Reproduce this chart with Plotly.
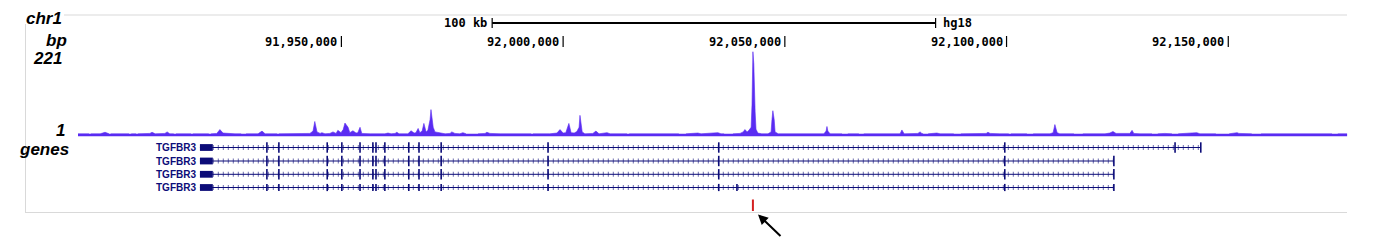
import plotly.graph_objects as go

# ---------------- data ----------------
chrom = "chr1"
assembly = "hg18"
view_kb = [91890.6, 92177.0]                 # visible window, kb
tick_kb = [91950, 92000, 92050, 92100, 92150]
tick_labels = ["91,950,000", "92,000,000", "92,050,000", "92,100,000", "92,150,000"]
scale_bar_kb = [91984.0, 92084.0]            # 100 kb bar
scale_bar_label = "100 kb"
sig_range_labels = ["221", "1"]
sig_max = 221

# signal track (None = gap in data)
sig_kb = [
    91890.6, 91893.1, None,
    91893.5, 91895.6, 91896.7, 91897.6, None,
    91898.0, 91902.1, None,
    91902.6, 91903.7, None,
    91904.1, 91906.8, 91907.3, 91908.0, 91910.2, 91910.7, 91911.3, 91912.2, None,
    91912.7, 91916.1, None,
    91916.5, 91920.1, None,
    91920.6, 91921.9, 91922.6, 91923.3, 91926.0, 91927.4, None,
    91928.5, 91931.2, 91932.1, 91932.8, 91935.5, None,
    91935.9, 91942.9, 91943.6, 91944.0, 91944.5, 91945.2, 91945.6, 91946.3, 91947.4, 91948.1,
    91948.8, 91949.2, 91949.9, 91950.4, 91950.8, 91951.5, 91951.9, 91952.6, 91953.3, 91953.7,
    91954.2, 91954.6, 91956.5, 91959.8, 91960.5, 91961.2, 91962.1, 91962.5, 91963.0, 91965.0,
    91965.7, 91966.4, 91966.8, 91967.3, 91967.7, 91968.2, 91968.6, 91969.1, 91969.5, 91970.0,
    91970.2, 91970.7, 91971.1, 91972.2, 91973.4, 91974.5, 91974.9, 91975.6, 91976.7, 91977.4,
    91978.1, None,
    91980.8, 91982.4, 91982.8, 91983.5, 91985.8, 91992.8, None,
    91993.2, 91997.0, 91998.6, 91999.3, 92000.0, 92000.6, 92001.3, 92001.8, 92002.5, 92003.1,
    92003.6, 92003.8, 92004.3, 92004.9, 92006.7, 92007.4, 92008.1, 92009.4, 92009.9, 92010.6,
    92014.4, None,
    92014.9, 92021.8, 92026.1, None,
    92027.7, 92029.7, 92030.4, 92031.1, 92032.7, 92033.3, 92034.9, 92035.6, 92036.3, None,
    92038.3, 92039.9, 92040.6, 92041.0, 92041.5, 92041.9, 92042.4, 92042.6, 92042.8, 92043.0,
    92043.3, 92043.5, 92043.9, 92044.8, 92046.2, 92046.9, 92047.1, 92047.3, 92047.6, 92047.8,
    92048.5, 92053.4, 92058.8, 92059.3, 92059.5, 92059.7, 92060.2, 92062.9, None,
    92064.2, 92065.1, 92065.8, 92066.7, None,
    92067.8, 92076.0, 92076.4, 92076.9, 92080.0, 92080.5, 92080.9, 92081.2, None,
    92082.3, 92083.9, 92084.3, 92085.0, 92088.1, None,
    92089.7, 92092.9, 92095.4, 92095.8, 92096.3, 92098.5, 92100.5, None,
    92101.0, 92104.6, None,
    92106.0, 92109.8, 92110.5, 92110.9, 92111.4, 92112.0, 92115.2, None,
    92117.2, 92122.2, 92123.3, 92124.0, 92124.7, 92126.7, 92127.8, 92128.3, 92128.7, 92130.1,
    92132.8, None,
    92134.1, 92135.7, 92137.3, None,
    92138.7, 92141.4, 92142.3, 92142.9, 92143.6, 92147.2, None,
    92150.2, 92151.5, 92152.0, 92152.4, 92155.3, None,
    92157.4, 92166.2, 92168.4, 92170.7, 92173.4, None,
    92174.7, 92176.8,
]
sig_val = [
    7, 7, None,
    7, 7, 11, 7, None,
    7, 7, None,
    7, 7, None,
    7, 8, 11, 7, 8, 12, 7, 7, None,
    7, 7, None,
    7, 7, None,
    7, 8, 18, 9, 7, 7, None,
    7, 7, 14, 7, 7, None,
    7, 8, 14, 39, 12, 8, 10, 7, 8, 12,
    8, 16, 10, 18, 35, 24, 10, 15, 9, 10,
    24, 8, 7, 7, 9, 7, 8, 11, 7, 7,
    15, 9, 10, 21, 10, 14, 34, 12, 16, 44,
    70, 24, 12, 9, 7, 8, 12, 8, 7, 10,
    7, None,
    7, 8, 11, 8, 7, 7, None,
    7, 7, 9, 18, 9, 10, 34, 10, 9, 13,
    24, 55, 12, 7, 8, 14, 7, 8, 10, 7,
    7, None,
    7, 7, 7, None,
    7, 8, 9, 7, 8, 10, 10, 7, 7, None,
    7, 8, 12, 18, 12, 16, 24, 84, 221, 189,
    64, 19, 9, 7, 7, 12, 44, 67, 44, 12,
    7, 7, 7, 14, 26, 14, 7, 7, None,
    7, 8, 7, 7, None,
    7, 7, 17, 7, 8, 12, 8, 7, None,
    7, 8, 9, 7, 7, None,
    7, 7, 8, 11, 8, 7, 7, None,
    7, 7, None,
    7, 7, 10, 31, 10, 7, 7, None,
    7, 7, 9, 13, 8, 7, 8, 16, 8, 7,
    7, None,
    7, 8, 7, None,
    7, 8, 10, 10, 7, 7, None,
    7, 8, 10, 8, 7, None,
    7, 7, 8, 7, 7, None,
    7, 7,
]

# genes (TGFBR3 transcripts)
gene_name = "TGFBR3"
tx_start_kb = [91918.1, 91918.1, 91918.1, 91918.1]
utr_end_kb = [91921.0, 91921.0, 91921.0, 91921.0]
tx_end_kb = [92143.8, 92124.2, 92124.2, 92124.2]
common_exons_kb = [91933.2, 91935.9, 91946.8, 91950.1, 91954.2, 91957.1, 91957.8, 91959.8,
                   91965.2, 91967.5, 91972.5, 91996.6, 92035.1, 92099.6]
tx_exons_kb = [
    common_exons_kb + [92138.0],
    common_exons_kb,
    common_exons_kb,
    common_exons_kb + [92039.2],
]
tx_coding = [True, True, True, False]
marker_kb = 92042.8   # highlighted position (red tick)

# ---------------- styles / layout ----------------
W, H = 1399, 240
SIG = "#5a2cf2"
NAVY = "rgb(12,12,120)"
GRAY = "#d9d9d9"
row_px = [147.5, 161.0, 174.3, 187.5]

def px(xp):
    return xp / W

fig = go.Figure()

fig.add_trace(go.Scatter(
    x=sig_kb, y=sig_val, mode="lines", fill="tozeroy",
    line=dict(color=SIG, width=0.6), fillcolor=SIG,
    connectgaps=False, hoverinfo="skip", showlegend=False,
    xaxis="x", yaxis="y"))

shapes = []
annots = []

# frame
shapes.append(dict(type="line", xref="paper", yref="y2", x0=px(64), x1=px(1347), y0=15, y1=15,
                   line=dict(color=GRAY, width=1)))
shapes.append(dict(type="line", xref="paper", yref="y2", x0=px(25.5), x1=px(25.5), y0=24, y1=212,
                   line=dict(color=GRAY, width=1)))
shapes.append(dict(type="line", xref="paper", yref="y2", x0=px(25), x1=px(1347), y0=212.5, y1=212.5,
                   line=dict(color=GRAY, width=1)))

# scale bar
b0, b1 = scale_bar_kb
shapes.append(dict(type="line", xref="x", yref="y2", x0=b0, x1=b1, y0=23, y1=23,
                   line=dict(color="black", width=1.8)))
for bx in (b0, b1):
    shapes.append(dict(type="line", xref="x", yref="y2", x0=bx, x1=bx, y0=18, y1=28,
                       line=dict(color="black", width=1.2)))
mono = dict(family="DejaVu Sans Mono", size=12, color="black", weight="bold")
annots.append(dict(x=b0, y=23, xref="x", yref="y2", text=scale_bar_label, showarrow=False,
                   xanchor="right", yanchor="middle", xshift=-3, font=mono))
annots.append(dict(x=b1, y=23, xref="x", yref="y2", text=assembly, showarrow=False,
                   xanchor="left", yanchor="middle", xshift=5, font=mono))

# position ticks
for t, lab in zip(tick_kb, tick_labels):
    shapes.append(dict(type="line", xref="x", yref="y2", x0=t, x1=t, y0=36, y1=47,
                       line=dict(color="black", width=1.2)))
    annots.append(dict(x=t, y=41.5, xref="x", yref="y2", text=lab, showarrow=False,
                       xanchor="right", yanchor="middle", xshift=-2, font=mono))

# left labels
lab_font = dict(family="Liberation Sans", size=17, color="black", weight="bold", style="italic")
for text, xr, yc in [(chrom, 63, 18.5), ("bp", 68, 40), (sig_range_labels[0], 63, 58),
                     (sig_range_labels[1], 66, 130.5), ("genes", 70, 149)]:
    annots.append(dict(x=px(xr), y=yc, xref="paper", yref="y2", text=text, showarrow=False,
                       xanchor="right", yanchor="middle", font=lab_font, borderpad=0))

# genes
gfont = dict(family="Liberation Sans", size=10, color=NAVY, weight="bold")
for i in range(len(tx_end_kb)):
    yc = row_px[i]
    s, e = tx_start_kb[i], tx_end_kb[i]
    shapes.append(dict(type="line", xref="x", yref="y2", x0=s, x1=e, y0=yc, y1=yc,
                       line=dict(color=NAVY, width=1)))
    shapes.append(dict(type="line", xref="x", yref="y2", x0=utr_end_kb[i], x1=e, y0=yc, y1=yc,
                       line=dict(color="rgba(12,12,120,0.6)", width=5, dash="1px,4px")))
    shapes.append(dict(type="rect", xref="x", yref="y2", x0=s, x1=utr_end_kb[i],
                       y0=yc - 3.4, y1=yc + 3.4, fillcolor=NAVY, line=dict(width=0)))
    hh = 5.2 if tx_coding[i] else 3.6
    for ex in tx_exons_kb[i] + [e]:
        shapes.append(dict(type="line", xref="x", yref="y2", x0=ex, x1=ex, y0=yc - hh, y1=yc + hh,
                           line=dict(color=NAVY, width=1.6)))
    annots.append(dict(x=s, y=yc, xref="x", yref="y2", text=gene_name, showarrow=False,
                       xanchor="right", yanchor="middle", xshift=-2, font=gfont))

# highlighted position + arrow
shapes.append(dict(type="line", xref="x", yref="y2", x0=marker_kb, x1=marker_kb, y0=199.5, y1=211,
                   line=dict(color="#d42020", width=2)))
annots.append(dict(x=px(758), y=214.5, xref="paper", yref="y2", ax=24, ay=23,
                   axref="pixel", ayref="pixel", text="", showarrow=True,
                   arrowhead=2, arrowsize=1, arrowwidth=2, arrowcolor="black"))

fig.update_layout(
    width=W, height=H, margin=dict(l=0, r=0, t=0, b=0),
    paper_bgcolor="white", plot_bgcolor="rgba(0,0,0,0)",
    xaxis=dict(domain=[px(78), px(1348)], range=view_kb, visible=False, fixedrange=True),
    yaxis=dict(domain=[1 - 136.5 / H, 1 - 51.5 / H], range=[0, sig_max], visible=False),
    yaxis2=dict(domain=[0, 1], range=[H, 0], visible=False, anchor="x"),
    shapes=shapes, annotations=annots, showlegend=False,
)

fig.write_html("out.html")
